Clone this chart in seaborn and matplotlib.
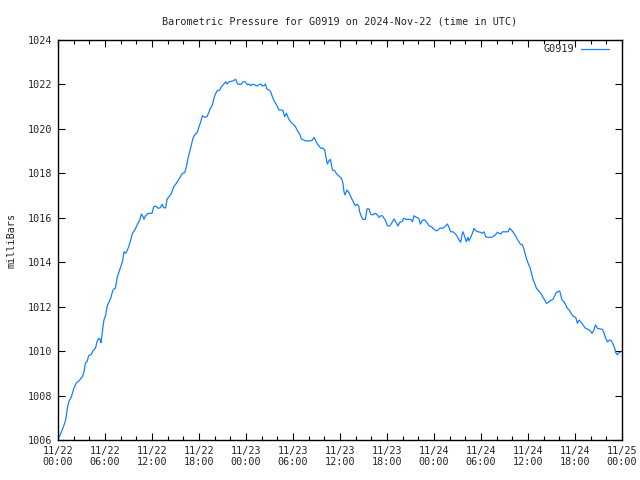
import matplotlib
matplotlib.use("Agg")
import matplotlib.pyplot as plt
import seaborn as sns
import pandas as pd
from matplotlib.ticker import MultipleLocator

# hours since 2024-11-22 00:00 UTC
hours = [0.00, 0.22, 0.64, 0.98, 1.20, 1.37, 1.71, 2.04, 2.35, 2.77, 3.12, 3.32, 3.50, 3.70, 3.92, 4.27,
         4.47, 4.78, 4.98, 5.20, 5.41, 5.49, 5.58, 5.74, 5.87, 6.09, 6.26, 6.51, 6.73, 6.89, 7.07, 7.33,
         7.46, 7.58, 7.79, 8.00, 8.22, 8.43, 8.64, 8.86, 9.03, 9.28, 9.50, 9.79, 10.01, 10.21, 10.43, 10.65,
         10.85, 10.98, 11.16, 11.49, 12.00, 12.22, 12.47, 12.77, 13.07, 13.28, 13.49, 13.75, 13.91, 14.17,
         14.48, 14.77, 15.03, 15.32, 15.63, 15.88, 16.17, 16.39, 16.60, 16.81, 17.03, 17.23, 17.45, 17.74,
         18.00, 18.22, 18.43, 18.73, 19.02, 19.24, 19.46, 19.71, 19.91, 20.13, 20.35, 20.64, 20.86, 21.15,
         21.41, 21.57, 21.83, 22.34, 22.68, 22.85, 22.98, 23.41, 23.62, 23.92, 24.18, 24.38, 24.60, 24.82,
         25.11, 25.40, 25.62, 25.88, 26.09, 26.30, 26.48, 26.68, 26.94, 27.15, 27.37, 27.57, 27.79, 28.01,
         28.21, 28.52, 28.72, 28.94, 29.16, 29.36, 29.58, 29.80, 30.00, 30.31, 30.56, 30.86, 31.07, 31.37,
         31.62, 32.26, 32.48, 32.68, 32.90, 33.11, 33.32, 33.54, 33.83, 34.05, 34.21, 34.39, 34.60, 34.77,
         34.90, 35.03, 35.32, 35.58, 35.87, 36.18, 36.38, 36.51, 36.64, 36.89, 37.15, 37.37, 37.58, 37.79,
         37.97, 38.17, 38.39, 38.51, 38.73, 38.94, 39.24, 39.45, 39.70, 39.92, 40.14, 40.34, 40.52, 40.77,
         40.98, 41.20, 41.41, 41.62, 41.83, 42.05, 42.34, 42.64, 42.89, 43.11, 43.40, 43.62, 43.91, 44.13,
         44.39, 45.02, 45.24, 45.45, 45.75, 46.05, 46.26, 46.52, 46.81, 47.11, 47.36, 47.67, 47.96, 48.22,
         48.43, 48.73, 49.15, 49.46, 49.71, 49.91, 50.13, 50.42, 50.73, 50.99, 51.19, 51.41, 51.57, 51.70,
         51.92, 52.13, 52.34, 52.47, 52.68, 52.90, 53.11, 53.32, 53.62, 53.92, 54.13, 54.38, 54.60, 54.89,
         55.33, 55.53, 55.84, 56.09, 56.30, 56.51, 56.73, 57.45, 57.66, 57.96, 58.21, 58.43, 58.64, 58.85,
         59.03, 59.29, 59.49, 59.67, 59.87, 60.09, 60.22, 60.43, 60.64, 60.85, 61.07, 61.36, 61.71, 61.91,
         62.13, 62.35, 62.55, 62.86, 63.19, 63.41, 63.62, 63.83, 64.05, 64.17, 64.34, 64.60, 64.81, 65.03,
         65.32, 65.62, 65.87, 66.09, 66.31, 66.51, 66.73, 67.02, 67.33, 67.66, 67.96, 68.17, 68.43, 68.60,
         68.86, 69.15, 69.50, 69.70, 69.92, 70.14, 70.43, 70.65, 70.85, 71.07, 71.20, 71.41, 71.62, 71.79]

pressure = [1006.08, 1006.18, 1006.54, 1006.90, 1007.44, 1007.72, 1007.95, 1008.34, 1008.57, 1008.70,
            1008.85, 1009.07, 1009.47, 1009.52, 1009.79, 1009.86, 1010.02, 1010.13, 1010.42, 1010.58,
            1010.50, 1010.38, 1010.65, 1011.10, 1011.40, 1011.63, 1012.00, 1012.22, 1012.38, 1012.60,
            1012.78, 1012.83, 1013.12, 1013.35, 1013.57, 1013.80, 1014.02, 1014.47, 1014.40, 1014.55,
            1014.70, 1015.00, 1015.30, 1015.45, 1015.60, 1015.75, 1015.90, 1016.17, 1016.05, 1015.93,
            1016.08, 1016.20, 1016.20, 1016.50, 1016.53, 1016.43, 1016.45, 1016.61, 1016.45, 1016.45,
            1016.83, 1016.95, 1017.10, 1017.40, 1017.51, 1017.67, 1017.85, 1018.00, 1018.03, 1018.30,
            1018.68, 1018.97, 1019.28, 1019.58, 1019.73, 1019.83, 1020.10, 1020.32, 1020.59, 1020.52,
            1020.55, 1020.73, 1020.93, 1021.08, 1021.38, 1021.60, 1021.72, 1021.75, 1021.90, 1022.01,
            1022.12, 1022.02, 1022.12, 1022.16, 1022.23, 1022.08, 1022.01, 1022.01, 1022.12, 1022.12,
            1021.98, 1022.02, 1021.94, 1022.01, 1021.98, 1021.93, 1021.98, 1022.02, 1021.94, 1021.94,
            1022.02, 1021.78, 1021.75, 1021.67, 1021.45, 1021.27, 1021.15, 1021.00, 1020.85, 1020.85,
            1020.82, 1020.55, 1020.70, 1020.52, 1020.37, 1020.28, 1020.22, 1020.10, 1019.92, 1019.76,
            1019.55, 1019.50, 1019.46, 1019.46, 1019.50, 1019.62, 1019.47, 1019.32, 1019.23, 1019.13,
            1019.13, 1019.05, 1018.72, 1018.42, 1018.57, 1018.63, 1018.38, 1018.15, 1018.12, 1017.97,
            1017.88, 1017.78, 1017.55, 1017.17, 1017.03, 1017.25, 1017.13, 1016.95, 1016.80, 1016.65,
            1016.54, 1016.61, 1016.53, 1016.27, 1016.05, 1015.93, 1015.93, 1016.40, 1016.40, 1016.16,
            1016.13, 1016.17, 1016.20, 1016.13, 1016.02, 1016.09, 1016.09, 1015.98, 1015.87, 1015.64,
            1015.63, 1015.78, 1015.95, 1015.82, 1015.63, 1015.80, 1015.82, 1015.98, 1015.93, 1015.93,
            1015.82, 1016.09, 1016.02, 1015.98, 1015.72, 1015.90, 1015.90, 1015.78, 1015.64, 1015.60,
            1015.50, 1015.42, 1015.42, 1015.53, 1015.53, 1015.63, 1015.72, 1015.57, 1015.37, 1015.37,
            1015.27, 1015.15, 1015.00, 1014.90, 1015.23, 1015.37, 1015.15, 1014.92, 1015.12, 1014.97,
            1015.12, 1015.30, 1015.53, 1015.42, 1015.37, 1015.35, 1015.30, 1015.37, 1015.15, 1015.12,
            1015.12, 1015.15, 1015.23, 1015.35, 1015.30, 1015.27, 1015.37, 1015.37, 1015.53, 1015.42,
            1015.30, 1015.18, 1015.03, 1014.92, 1014.81, 1014.78, 1014.58, 1014.33, 1014.10, 1013.88,
            1013.80, 1013.53, 1013.23, 1013.05, 1012.83, 1012.71, 1012.57, 1012.42, 1012.30, 1012.15,
            1012.18, 1012.27, 1012.33, 1012.48, 1012.65, 1012.67, 1012.71, 1012.53, 1012.30, 1012.22,
            1012.08, 1011.93, 1011.82, 1011.63, 1011.55, 1011.52, 1011.25, 1011.40, 1011.32, 1011.18,
            1011.03, 1010.98, 1010.91, 1010.80, 1010.95, 1011.18, 1011.03, 1011.00, 1010.98, 1010.83,
            1010.58, 1010.42, 1010.50, 1010.47, 1010.32, 1010.13, 1009.93, 1009.83, 1009.93, 1009.95]

tick_hours = [0, 6, 12, 18, 24, 30, 36, 42, 48, 54, 60, 66, 72]
tick_labels = ["11/22\n00:00", "11/22\n06:00", "11/22\n12:00", "11/22\n18:00",
               "11/23\n00:00", "11/23\n06:00", "11/23\n12:00", "11/23\n18:00",
               "11/24\n00:00", "11/24\n06:00", "11/24\n12:00", "11/24\n18:00",
               "11/25\n00:00"]
y_ticks = [1006, 1008, 1010, 1012, 1014, 1016, 1018, 1020, 1022, 1024]

df = pd.DataFrame({"hours": hours, "pressure": pressure, "station": "G0919"})

sns.set_theme(style="white")
plt.rcParams["font.family"] = ["DejaVu Sans Mono"]
FS = 7.3

fig = plt.figure(figsize=(6.4, 4.8), dpi=100)
ax = fig.add_axes([58 / 640, 1 - 440 / 480, 564 / 640, 400 / 480])

sns.lineplot(data=df, x="hours", y="pressure", hue="station", palette=["#1580ff"],
             linewidth=0.9, ax=ax, estimator=None, sort=False)

ax.set_xlim(0, 72)
ax.set_ylim(1006, 1024)
ax.set_xticks(tick_hours)
ax.set_xticklabels(tick_labels, fontsize=FS)
ax.xaxis.set_minor_locator(MultipleLocator(2))
ax.set_yticks(y_ticks)
ax.set_yticklabels([str(v) for v in y_ticks], fontsize=FS)

ax.tick_params(axis="both", which="major", direction="in", length=5, width=0.8,
               top=True, right=True, bottom=True, left=True, color="black", pad=4)
ax.tick_params(axis="x", which="minor", direction="in", length=3, width=0.8,
               top=True, bottom=True, color="black")

for s in ax.spines.values():
    s.set_color("black")
    s.set_linewidth(1.0)

ax.set_xlabel("")
ax.set_ylabel("milliBars", fontsize=FS, labelpad=8)
ax.set_title("Barometric Pressure for G0919 on 2024-Nov-22 (time in UTC)", fontsize=FS, pad=11)

leg = ax.legend(loc="upper right", bbox_to_anchor=(0.984, 1.0), frameon=False, fontsize=FS,
                markerfirst=False, handlelength=2.8, borderaxespad=0.0, handletextpad=0.6)
for line in leg.get_lines():
    line.set_linewidth(0.9)

fig.savefig("out.png", dpi=100)
